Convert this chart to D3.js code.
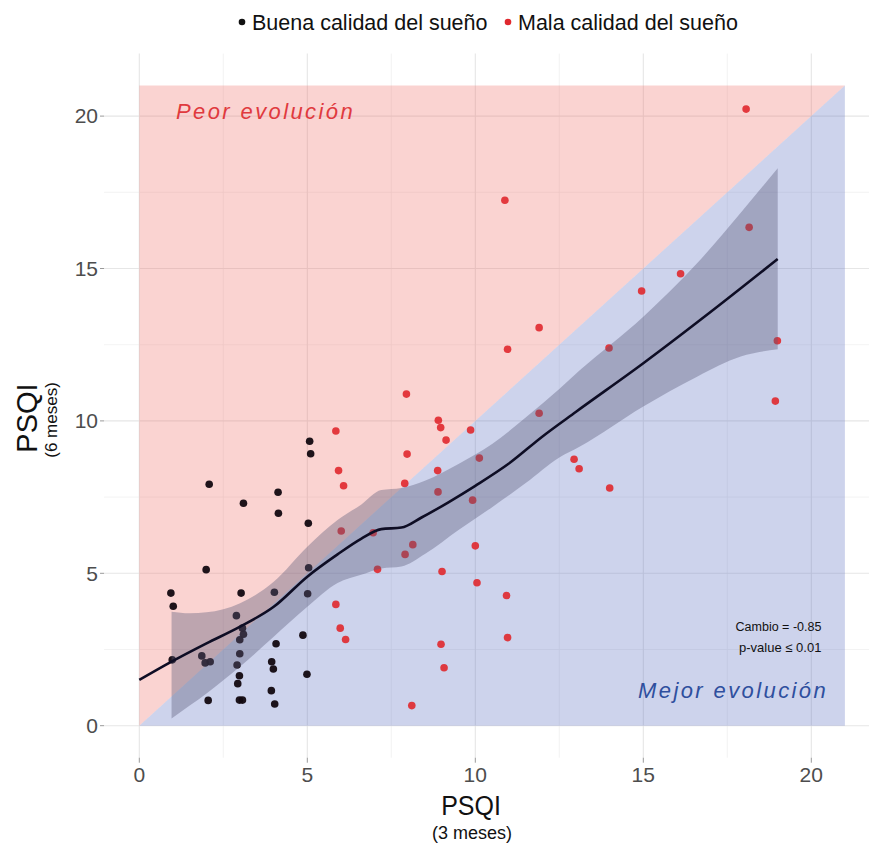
<!DOCTYPE html>
<meta charset="utf-8">
<style>
body { margin: 0; background: #fff; }
text { font-family: "Liberation Sans", Arial, sans-serif; }
.grid-major { stroke: #e6e6e6; stroke-width: 1.1px; }
.grid-minor { stroke: #f0f0f0; stroke-width: 0.8px; }
.tick-label { fill: #4d4d4d; font-size: 21px; }
</style>
<body>
<script src="https://d3js.org/d3.v7.min.js"></script>
<script>

// good sleep quality points (PSQI 3 months, PSQI 6 months)
var goodX = [5.07, 5.1, 2.08, 4.13, 3.1, 4.14, 5.03, 1.99, 5.04, 0.94, 3.03, 4.02, 5.01, 1.01, 2.89, 3.07, 3.1, 2.99,
             4.87, 4.07, 2.99, 0.98, 1.86, 1.96, 2.11, 2.91, 3.94, 3.99, 2.98, 2.93, 4.99, 3.93, 2.05, 2.98, 3.07, 4.03];
var goodY = [9.33, 8.92, 7.92, 7.66, 7.3, 6.97, 6.64, 5.12, 5.18, 4.35, 4.35, 4.38, 4.33, 3.92, 3.61, 3.2, 3.0, 2.82,
             2.97, 2.69, 2.36, 2.16, 2.29, 2.06, 2.1, 1.99, 2.1, 1.86, 1.64, 1.38, 1.69, 1.15, 0.83, 0.84, 0.84, 0.71];

// poor sleep quality points
var poorX = [5.85, 5.93, 6.08, 6.01, 5.85, 5.98, 6.14, 7.95, 8.9, 8.97, 9.86, 9.13, 7.97, 10.12, 8.88, 7.9, 8.89, 9.92,
             6.96, 8.14, 7.91, 10.0, 7.09, 9.01, 10.05, 10.93, 10.96, 8.98, 9.07, 8.11, 10.88, 10.96, 11.9, 13.98, 14.95,
             16.11, 18.15, 18.99, 18.93, 11.9, 12.94, 13.09, 14.0, 18.06];
var poorY = [9.67, 8.37, 7.87, 6.39, 3.98, 3.2, 2.83, 10.88, 10.02, 9.78, 9.7, 9.37, 8.91, 8.78, 8.37, 7.95, 7.67, 7.4,
             6.33, 5.94, 5.62, 5.9, 5.13, 5.06, 4.69, 4.27, 2.89, 2.67, 1.9, 0.66, 17.24, 12.35, 13.06, 12.39, 14.26,
             14.83, 16.35, 12.63, 10.65, 10.25, 8.74, 8.43, 7.8, 20.23];

// smoothed fit
var fitX = [0, 0.96, 2, 3, 4, 5, 5.9, 6.6, 7.2, 7.8, 8.4, 9.2, 10, 11, 12, 13, 15, 17, 19];
var fitY = [1.5, 2.1, 2.7, 3.25, 3.9, 4.89, 5.62, 6.13, 6.45, 6.5, 6.83, 7.33, 7.87, 8.6, 9.49, 10.3, 11.89, 13.57, 15.31];

// confidence band
var bandX  = [0.96, 1.5, 2, 3, 4, 5, 5.9, 6.6, 7.2, 7.8, 8.5, 9.5, 10.5, 11.5, 12.5, 13.1, 15, 16.6, 17.9, 19];
var bandLo = [0.24, 0.66, 1.06, 1.94, 2.92, 3.9, 4.68, 4.95, 5.16, 5.22, 5.63, 6.42, 7.17, 7.96, 8.8, 9.15, 10.47, 11.45, 12.11, 12.35];
var bandHi = [3.74, 3.69, 3.72, 4.02, 4.72, 5.87, 6.75, 7.25, 7.73, 7.8, 8.04, 8.59, 9.24, 10.11, 11.05, 11.65, 13.42, 15.17, 16.83, 18.29];

var majorTicks = [0, 5, 10, 15, 20];
var minorTicks = [2.5, 7.5, 12.5, 17.5];
var limit = 21;

var width = 869, height = 844;

var x = d3.scaleLinear().domain([0, 20]).range([139.3, 811.3]);
var y = d3.scaleLinear().domain([0, 20]).range([725.7, 116.1]);

var panel = {left: x(-1.05), right: width, top: y(22.05), bottom: y(-1.05)};

var svg = d3.select("body").append("svg")
    .attr("width", width)
    .attr("height", height);

// grid
svg.selectAll(".hminor").data(minorTicks).enter().append("line")
    .attr("class", "grid-minor")
    .attr("x1", panel.left).attr("x2", panel.right)
    .attr("y1", function(d) { return y(d); }).attr("y2", function(d) { return y(d); });
svg.selectAll(".vminor").data(minorTicks).enter().append("line")
    .attr("class", "grid-minor")
    .attr("y1", panel.top).attr("y2", panel.bottom)
    .attr("x1", function(d) { return x(d); }).attr("x2", function(d) { return x(d); });
svg.selectAll(".hmajor").data(majorTicks).enter().append("line")
    .attr("class", "grid-major")
    .attr("x1", panel.left).attr("x2", panel.right)
    .attr("y1", function(d) { return y(d); }).attr("y2", function(d) { return y(d); });
svg.selectAll(".vmajor").data(majorTicks).enter().append("line")
    .attr("class", "grid-major")
    .attr("y1", panel.top).attr("y2", panel.bottom)
    .attr("x1", function(d) { return x(d); }).attr("x2", function(d) { return x(d); });

// worse / better regions
var worse = [[0, 0], [0, limit], [limit, limit]];
var better = [[0, 0], [limit, 0], [limit, limit]];
var poly = d3.line().x(function(d) { return x(d[0]); }).y(function(d) { return y(d[1]); });

svg.append("path").attr("d", poly(worse) + "Z")
    .attr("fill", "#ee6c66").attr("fill-opacity", 0.3);
svg.append("path").attr("d", poly(better) + "Z")
    .attr("fill", "#586cc0").attr("fill-opacity", 0.3);

// points
svg.selectAll(".good").data(goodX).enter().append("circle")
    .attr("cx", function(d) { return x(d); })
    .attr("cy", function(d, i) { return y(goodY[i]); })
    .attr("r", 3.8)
    .attr("fill", "#120810").attr("fill-opacity", 0.95);
svg.selectAll(".poor").data(poorX).enter().append("circle")
    .attr("cx", function(d) { return x(d); })
    .attr("cy", function(d, i) { return y(poorY[i]); })
    .attr("r", 3.8)
    .attr("fill", "#e0282e").attr("fill-opacity", 0.9);

// band
var area = d3.area()
    .x(function(d) { return x(d); })
    .y0(function(d, i) { return y(bandLo[i]); })
    .y1(function(d, i) { return y(bandHi[i]); })
    .curve(d3.curveMonotoneX);
svg.append("path").attr("d", area(bandX))
    .attr("fill", "#5a5a78").attr("fill-opacity", 0.38);

// fit line
var line = d3.line()
    .x(function(d) { return x(d); })
    .y(function(d, i) { return y(fitY[i]); })
    .curve(d3.curveMonotoneX);
svg.append("path").attr("d", line(fitX))
    .attr("fill", "none").attr("stroke", "#0e0d24").attr("stroke-width", 2.6);

// axes ticks
svg.selectAll(".ytick").data(majorTicks).enter().append("line")
    .attr("x1", panel.left - 4).attr("x2", panel.left)
    .attr("y1", function(d) { return y(d); }).attr("y2", function(d) { return y(d); })
    .attr("stroke", "#999");
svg.selectAll(".ylab").data(majorTicks).enter().append("text")
    .attr("class", "tick-label")
    .attr("x", panel.left - 6)
    .attr("y", function(d) { return y(d); })
    .attr("dy", "0.35em")
    .attr("text-anchor", "end")
    .text(function(d) { return d; });

svg.selectAll(".xtick").data(majorTicks).enter().append("line")
    .attr("y1", panel.bottom).attr("y2", panel.bottom + 5)
    .attr("x1", function(d) { return x(d); }).attr("x2", function(d) { return x(d); })
    .attr("stroke", "#999");
svg.selectAll(".xlab").data(majorTicks).enter().append("text")
    .attr("class", "tick-label")
    .attr("x", function(d) { return x(d); })
    .attr("y", panel.bottom + 24)
    .attr("text-anchor", "middle")
    .text(function(d) { return d; });

// axis titles
svg.append("text").attr("transform", "translate(471,815) scale(1,1.12)")
    .attr("text-anchor", "middle").style("font-size", "25px").attr("fill", "#111")
    .text("PSQI");
svg.append("text").attr("x", 472).attr("y", 839)
    .attr("text-anchor", "middle").style("font-size", "18px").attr("fill", "#111")
    .text("(3 meses)");
svg.append("text").attr("transform", "translate(37,418) rotate(-90)")
    .attr("text-anchor", "middle").style("font-size", "29px").attr("fill", "#111")
    .text("PSQI");
svg.append("text").attr("transform", "translate(57,420) rotate(-90)")
    .attr("text-anchor", "middle").style("font-size", "17px").attr("fill", "#111")
    .text("(6 meses)");

// region labels
svg.append("text").attr("x", x(1.09)).attr("y", y(20.17)).attr("dy", "0.35em")
    .style("font-size", "22px").style("font-style", "italic").style("letter-spacing", "2.4px")
    .attr("fill", "#e03a3e").text("Peor evolución");
svg.append("text").attr("x", x(20.5)).attr("y", y(1.17)).attr("dy", "0.35em")
    .attr("text-anchor", "end")
    .style("font-size", "22px").style("font-style", "italic").style("letter-spacing", "2.4px")
    .attr("fill", "#2f4f9e").text("Mejor evolución");

svg.append("text").attr("x", x(20.3)).attr("y", y(3.24)).attr("dy", "0.35em")
    .attr("text-anchor", "end").style("font-size", "12.5px").attr("fill", "#111")
    .text("Cambio = -0.85");
svg.append("text").attr("x", x(20.3)).attr("y", y(2.58)).attr("dy", "0.35em")
    .attr("text-anchor", "end").style("font-size", "13px").attr("fill", "#111")
    .text("p-value \u2264 0.01");

// legend
var legendItems = ["Buena calidad del sueño", "Mala calidad del sueño"];
var legendColors = ["#111", "#e0282e"];
var legendPos = [242, 508];
legendItems.forEach(function(label, i) {
  svg.append("circle").attr("cx", legendPos[i]).attr("cy", 22).attr("r", 3.3)
      .attr("fill", legendColors[i]);
  svg.append("text").attr("x", legendPos[i] + 10).attr("y", 22).attr("dy", "0.35em")
      .style("font-size", "21.5px").attr("fill", "#111").text(label);
});

</script>
</body>
